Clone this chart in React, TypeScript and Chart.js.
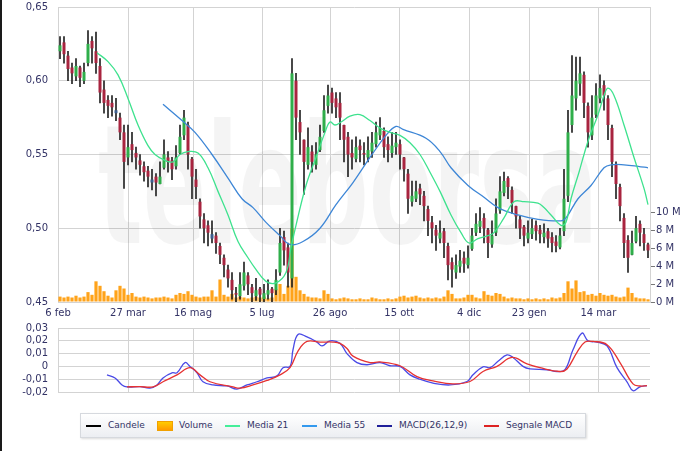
import React, { useEffect, useRef } from "react";
import { Chart, registerables } from "chart.js";
Chart.register(...registerables);

// x positions are candle indices (one candle per two sessions)
const TICK_POS = [-0.5, 17, 33.25, 50.5, 67.5, 84.8, 102.3, 117.3, 134.6];
const TICK_LABELS = ["6 feb", "27 mar", "16 mag", "5 lug", "26 ago", "15 ott", "4 dic", "23 gen", "14 mar"];
const PRICE_TICKS = [0.45, 0.5, 0.55, 0.6, 0.65];
const VOLUME_TICKS = [0, 2, 4, 6, 8, 10];
const MACD_TICKS = [-0.02, -0.01, 0, 0.01, 0.02, 0.03];

const OPEN = [0.620,0.626,0.617,0.609,0.603,0.609,0.600,0.612,0.627,0.620,
 0.610,0.594,0.587,0.585,0.578,0.575,0.565,0.548,0.557,0.551,
 0.546,0.542,0.539,0.531,0.535,0.530,0.541,0.548,0.546,0.542,
 0.551,0.563,0.570,0.547,0.533,0.518,0.506,0.502,0.493,0.495,
 0.488,0.480,0.472,0.465,0.456,0.454,0.461,0.468,0.460,0.454,
 0.459,0.452,0.455,0.459,0.458,0.470,0.494,0.487,0.466,0.600,
 0.572,0.560,0.543,0.552,0.543,0.553,0.566,0.583,0.592,0.588,
 0.585,0.570,0.562,0.551,0.547,0.556,0.551,0.548,0.552,0.557,
 0.563,0.566,0.557,0.551,0.555,0.557,0.548,0.537,0.518,0.520,
 0.527,0.522,0.513,0.504,0.499,0.493,0.498,0.488,0.477,0.470,
 0.474,0.480,0.475,0.486,0.497,0.501,0.507,0.499,0.489,0.497,
 0.512,0.524,0.534,0.526,0.515,0.506,0.501,0.493,0.496,0.502,
 0.499,0.494,0.498,0.494,0.491,0.487,0.498,0.522,0.570,0.588,
 0.598,0.604,0.583,0.563,0.577,0.588,0.597,0.588,0.568,0.543,
 0.528,0.507,0.492,0.482,0.491,0.503,0.496,0.489];

const HIGH = [0.630,0.630,0.620,0.612,0.615,0.610,0.612,0.634,0.630,0.633,
 0.615,0.600,0.590,0.590,0.588,0.578,0.570,0.570,0.565,0.555,
 0.550,0.545,0.542,0.540,0.537,0.545,0.560,0.552,0.548,0.556,
 0.570,0.580,0.572,0.548,0.540,0.520,0.510,0.505,0.505,0.497,
 0.490,0.482,0.475,0.470,0.460,0.470,0.477,0.470,0.462,0.466,
 0.460,0.462,0.465,0.460,0.472,0.500,0.498,0.490,0.615,0.605,
 0.580,0.560,0.568,0.556,0.558,0.570,0.590,0.597,0.595,0.592,
 0.592,0.570,0.565,0.560,0.562,0.560,0.558,0.562,0.565,0.572,
 0.575,0.568,0.562,0.565,0.565,0.560,0.548,0.540,0.532,0.532,
 0.530,0.525,0.515,0.508,0.502,0.505,0.500,0.490,0.480,0.482,
 0.485,0.484,0.488,0.500,0.510,0.514,0.510,0.500,0.505,0.520,
 0.535,0.538,0.535,0.528,0.515,0.508,0.502,0.505,0.506,0.505,
 0.502,0.503,0.500,0.497,0.495,0.500,0.540,0.580,0.617,0.616,
 0.616,0.606,0.585,0.590,0.598,0.604,0.600,0.590,0.570,0.545,
 0.530,0.510,0.495,0.498,0.508,0.505,0.500,0.490];

const LOW = [0.615,0.612,0.600,0.598,0.600,0.596,0.598,0.610,0.612,0.605,
 0.585,0.578,0.575,0.576,0.573,0.560,0.527,0.543,0.545,0.540,
 0.536,0.532,0.528,0.526,0.522,0.530,0.540,0.538,0.533,0.540,
 0.550,0.560,0.540,0.520,0.520,0.500,0.490,0.488,0.490,0.483,
 0.476,0.467,0.460,0.452,0.450,0.452,0.458,0.455,0.450,0.451,
 0.450,0.450,0.452,0.450,0.455,0.468,0.475,0.460,0.460,0.560,
 0.550,0.523,0.540,0.538,0.540,0.552,0.565,0.578,0.578,0.575,
 0.560,0.545,0.535,0.540,0.545,0.545,0.543,0.545,0.548,0.555,
 0.560,0.548,0.545,0.548,0.550,0.540,0.532,0.510,0.515,0.518,
 0.516,0.505,0.495,0.490,0.485,0.490,0.480,0.465,0.460,0.466,
 0.470,0.470,0.473,0.485,0.495,0.497,0.490,0.480,0.487,0.495,
 0.510,0.522,0.520,0.510,0.500,0.493,0.488,0.490,0.493,0.492,
 0.490,0.490,0.487,0.484,0.484,0.486,0.495,0.518,0.565,0.580,
 0.590,0.575,0.555,0.560,0.575,0.585,0.580,0.560,0.535,0.520,
 0.505,0.480,0.470,0.482,0.490,0.488,0.485,0.480];

const CLOSE = [0.624,0.618,0.608,0.605,0.610,0.602,0.606,0.625,0.622,0.612,
 0.592,0.585,0.583,0.582,0.580,0.565,0.545,0.555,0.553,0.548,
 0.543,0.538,0.535,0.533,0.531,0.535,0.550,0.545,0.540,0.548,
 0.562,0.575,0.550,0.535,0.528,0.508,0.500,0.497,0.496,0.490,
 0.482,0.475,0.466,0.458,0.455,0.462,0.470,0.462,0.456,0.458,
 0.455,0.456,0.458,0.456,0.465,0.490,0.485,0.470,0.605,0.575,
 0.565,0.545,0.555,0.545,0.550,0.562,0.580,0.590,0.585,0.582,
 0.575,0.560,0.550,0.548,0.555,0.553,0.550,0.553,0.558,0.565,
 0.568,0.555,0.553,0.556,0.558,0.550,0.540,0.520,0.522,0.525,
 0.523,0.515,0.505,0.500,0.495,0.497,0.490,0.475,0.472,0.475,
 0.478,0.476,0.480,0.495,0.503,0.505,0.500,0.490,0.495,0.510,
 0.525,0.532,0.528,0.517,0.508,0.500,0.495,0.497,0.500,0.498,
 0.496,0.497,0.493,0.490,0.488,0.495,0.520,0.565,0.590,0.600,
 0.605,0.585,0.565,0.575,0.590,0.595,0.590,0.570,0.545,0.530,
 0.515,0.490,0.480,0.490,0.500,0.497,0.490,0.485];

// millions of shares
const VOLUME = [0.6,0.5,0.6,0.5,0.7,0.5,0.6,1.1,0.8,2.3,
 1.8,1.2,0.7,0.5,1.3,1.8,1.5,0.8,1.0,0.6,
 0.5,0.6,0.5,0.4,0.5,0.5,0.6,0.5,0.4,0.8,
 1.0,0.9,1.2,0.8,0.6,0.5,0.6,0.6,1.3,0.6,
 2.5,0.8,0.6,0.9,0.5,0.6,0.5,0.4,0.5,0.6,
 0.5,0.6,0.4,0.5,1.4,2.0,0.9,1.8,8.2,2.8,
 1.3,0.9,0.6,0.5,0.5,0.4,1.3,0.9,0.4,0.3,
 0.4,0.5,0.4,0.3,0.3,0.4,0.3,0.3,0.5,0.4,
 0.3,0.3,0.4,0.3,0.4,0.6,0.7,0.5,0.6,0.7,
 0.5,0.4,0.5,0.4,0.5,0.4,0.6,1.3,0.9,0.4,
 0.4,0.5,0.8,0.8,0.5,0.4,1.2,0.8,0.7,1.0,
 0.9,0.6,0.4,0.5,0.4,0.4,0.3,0.4,0.3,0.4,
 0.3,0.4,0.3,0.5,0.4,0.5,1.0,2.3,1.5,2.4,
 1.1,1.2,0.8,0.9,0.7,1.0,0.8,0.7,0.8,0.6,
 0.5,0.6,1.6,1.0,0.5,0.4,0.4,0.3];

const MA21_IDX = [9.25,12,14.5,17,19.5,22,23.75,26.25,28.25,30,32,34.5,37,39.5,42,44.5,47,48.75,51.5,54,56.5,57.75,59,61.5,64,66.25,67.5,68.75,70.25,72.5,75,77.5,80,82.5,85,87.5,90,92.5,95,97.75,100.25,102.25,104.5,107,108.5,111,113.5,116,119.5,121,122.75,125.25,126.5,127.75,129.75,131,132.25,134.5,136,137,138.5,141,143.5,146,147];
const MA21_VAL = [0.619,0.613,0.604,0.588,0.570,0.556,0.550,0.546,0.545,0.550,0.552,0.551,0.541,0.525,0.509,0.491,0.480,0.473,0.464,0.463,0.470,0.487,0.502,0.529,0.548,0.565,0.572,0.570,0.572,0.576,0.577,0.573,0.568,0.565,0.563,0.558,0.550,0.538,0.525,0.509,0.497,0.490,0.493,0.495,0.497,0.507,0.518,0.518,0.517,0.514,0.509,0.502,0.504,0.520,0.538,0.550,0.561,0.577,0.590,0.595,0.590,0.570,0.548,0.527,0.516];

const MA55_IDX = [25.75,30.5,33.75,38,42,45.5,48.25,51.5,55,57.5,60.75,65,69,73.25,77.5,81.5,84,85.75,91.5,95,97.75,102,106,109.5,114.5,119.5,125.25,126.5,129.5,132.75,136,137.75,141,144.5,147];
const MA55_VAL = [0.584,0.573,0.565,0.550,0.534,0.520,0.514,0.504,0.495,0.489,0.491,0.500,0.516,0.531,0.548,0.563,0.569,0.567,0.561,0.552,0.541,0.529,0.521,0.514,0.509,0.506,0.505,0.507,0.520,0.529,0.541,0.543,0.543,0.542,0.541];

const MACD_IDX = [11.75,13.75,15.5,16.75,20,22.5,24.25,25.75,28,29.25,31.25,32.5,34.25,35.75,38.25,41.75,44.25,46.75,49.25,51.75,54.25,55.75,57.5,58.25,59.5,61.75,64.25,65.5,67.5,70,71.75,74.25,76.75,80,82.5,85,87.5,90,93.25,97.5,101.75,103.25,105.75,107.5,109.5,111.75,113.25,115.75,117.5,121.75,124.25,126.25,128.25,130.5,132,134.25,136.75,139.25,141.75,143.25,145,146.75];
const MACD_VAL = [-0.0066,-0.009,-0.0145,-0.016,-0.0158,-0.017,-0.0145,-0.009,-0.005,-0.005,0.003,0.0,-0.005,-0.012,-0.0145,-0.0153,-0.0177,-0.0145,-0.012,-0.009,-0.0074,-0.001,0.0,0.013,0.025,0.023,0.019,0.016,0.020,0.018,0.010,0.003,0.0013,0.003,0.0005,0.0,-0.0066,-0.010,-0.013,-0.0145,-0.0118,-0.0066,-0.0003,-0.001,0.004,0.009,0.007,0.0,-0.002,-0.0026,-0.004,-0.0026,0.013,0.026,0.020,0.019,0.016,-0.001,-0.012,-0.019,-0.016,-0.015];

const SIGNAL_IDX = [16.75,20,23.25,25.75,29.25,32.5,35,37.5,43.25,45,48.25,51.75,55,57.5,59.5,61.75,65,68.25,70,71.75,73.25,77.5,80,85,89.25,93.25,98.25,102.5,105.75,109.25,113,116.75,120,125,126.75,129.25,131.25,133.25,136.75,140,143.25,145,146.75];
const SIGNAL_VAL = [-0.016,-0.0158,-0.016,-0.012,-0.0066,-0.001,-0.0066,-0.012,-0.016,-0.017,-0.0145,-0.011,-0.0066,-0.001,0.012,0.0195,0.019,0.019,0.018,0.014,0.008,0.003,0.0035,0.0005,-0.008,-0.0113,-0.0137,-0.0118,-0.004,0.0,0.007,0.002,-0.001,-0.004,-0.002,0.011,0.019,0.0195,0.017,0.003,-0.0137,-0.0153,-0.015];

const FONT = '"DejaVu Sans", Verdana, sans-serif';
const LABEL = "#333366";
const GRID = "#d3d3d3";
const C_UP = "#2fae4a";
const C_DOWN = "#a8243f";
const C_UPGAP = "#3c5e8e";
const C_DOWNGAP = "#8c8c8c";
const C_WICK = "#222222";
const C_MA21 = "#3ee28e";
const C_MA55 = "#3d86d6";
const C_MACD = "#4a4ae6";
const C_SIGNAL = "#e63232";

const fmt = (v: number) => (Math.abs(v) < 1e-9 ? "0" : v.toFixed(2).replace(".", ","));

function candleColor(i: number) {
  const o = OPEN[i], c = CLOSE[i];
  const p = i > 0 ? CLOSE[i - 1] : o;
  if (c >= o) return c >= p ? C_UP : C_UPGAP;
  return c <= p ? C_DOWN : C_DOWNGAP;
}

const pts = (xs: number[], ys: number[]) => xs.map((x, i) => ({ x, y: ys[i] }));

function xAxis(showLabels: boolean, height: number) {
  return {
    type: "linear",
    min: -0.5,
    max: 147.5,
    offset: false,
    afterBuildTicks: (s: any) => {
      s.ticks = TICK_POS.map((value) => ({ value }));
    },
    afterFit: (s: any) => {
      s.height = height;
    },
    ticks: {
      display: showLabels,
      autoSkip: false,
      maxRotation: 0,
      padding: 5,
      color: LABEL,
      font: { family: FONT, size: 10 },
      callback: (v: number) => {
        const i = TICK_POS.indexOf(v);
        return i >= 0 ? TICK_LABELS[i] : "";
      },
    },
    grid: { color: GRID, drawTicks: false, offset: false },
    border: { display: false },
  };
}

function leftAxis(min: number, max: number, ticks: number[]) {
  return {
    position: "left",
    min,
    max,
    afterBuildTicks: (s: any) => {
      s.ticks = ticks.map((value) => ({ value }));
    },
    afterFit: (s: any) => {
      s.width = 58;
    },
    ticks: {
      padding: 0,
      autoSkip: false,
      color: LABEL,
      font: { family: FONT, size: 10 },
      callback: (v: any) => fmt(Number(v)),
    },
    grid: { color: GRID, drawTicks: true, tickLength: 10, tickColor: "rgba(0,0,0,0)" },
    border: { display: true, color: GRID },
  };
}

const watermark = {
  id: "watermark",
  beforeDatasetsDraw(chart: any) {
    const ctx = chart.ctx;
    ctx.save();
    ctx.font = 'bold 165px "DejaVu Sans"';
    ctx.fillStyle = "rgba(0,0,0,0.045)";
    ctx.textBaseline = "alphabetic";
    ctx.fillText("teleborsa", 98, 243, 500);
    ctx.restore();
  },
};

export default function App() {
  const c1 = useRef<HTMLCanvasElement>(null);
  const c2 = useRef<HTMLCanvasElement>(null);

  useEffect(() => {
    const idx = OPEN.map((_, i) => i);
    const bodyColors = idx.map(candleColor);

    const ch1 = new Chart(c1.current!, {
      type: "bar",
      data: {
        datasets: [
          {
            type: "line",
            label: "Media 21",
            data: pts(MA21_IDX, MA21_VAL),
            borderColor: C_MA21,
            borderWidth: 1.3,
            pointRadius: 0,
            tension: 0.4,
            yAxisID: "y",
            order: 0,
          },
          {
            type: "line",
            label: "Media 55",
            data: pts(MA55_IDX, MA55_VAL),
            borderColor: C_MA55,
            borderWidth: 1.3,
            pointRadius: 0,
            tension: 0.4,
            yAxisID: "y",
            order: 0,
          },
          {
            label: "Candele",
            data: idx.map((i) => ({ x: i, y: [OPEN[i], CLOSE[i]] })),
            backgroundColor: bodyColors,
            borderWidth: 0,
            barPercentage: 0.75,
            categoryPercentage: 1,
            grouped: false,
            yAxisID: "y",
            order: 1,
          },
          {
            label: "wick",
            data: idx.map((i) => ({ x: i, y: [LOW[i], HIGH[i]] })),
            backgroundColor: C_WICK,
            borderWidth: 0,
            barThickness: 1,
            grouped: false,
            yAxisID: "y",
            order: 2,
          },
          {
            label: "Volume",
            data: idx.map((i) => ({ x: i, y: VOLUME[i] })),
            backgroundColor: "#ffa31a",
            borderWidth: 0,
            barPercentage: 0.8,
            categoryPercentage: 1,
            grouped: false,
            yAxisID: "yv",
            order: 3,
          },
        ] as any,
      },
      options: {
        responsive: false,
        animation: false,
        devicePixelRatio: 1,
        layout: { padding: { top: 7, left: 0, right: 0, bottom: 0 } },
        plugins: { legend: { display: false }, tooltip: { enabled: false } },
        scales: {
          x: xAxis(true, 23) as any,
          y: leftAxis(0.45, 0.65, PRICE_TICKS) as any,
          yv: {
            position: "right",
            min: 0,
            max: 32.8,
            afterBuildTicks: (s: any) => {
              s.ticks = VOLUME_TICKS.map((value) => ({ value }));
            },
            afterFit: (s: any) => {
              s.width = 50;
            },
            ticks: {
              padding: 1,
              autoSkip: false,
              color: LABEL,
              font: { family: FONT, size: 10 },
              callback: (v: any) => v + " M",
            },
            grid: { drawOnChartArea: false, tickLength: 5, color: "#777" },
            border: { display: true, color: GRID },
          },
        },
      } as any,
      plugins: [watermark],
    });

    const ch2 = new Chart(c2.current!, {
      type: "line",
      data: {
        datasets: [
          {
            label: "Segnale MACD",
            data: pts(SIGNAL_IDX, SIGNAL_VAL),
            borderColor: C_SIGNAL,
            borderWidth: 1.3,
            pointRadius: 0,
            tension: 0.4,
          },
          {
            label: "MACD(26,12,9)",
            data: pts(MACD_IDX, MACD_VAL),
            borderColor: C_MACD,
            borderWidth: 1.3,
            pointRadius: 0,
            tension: 0.4,
          },
        ],
      },
      options: {
        responsive: false,
        animation: false,
        devicePixelRatio: 1,
        layout: { padding: { top: 8, left: 0, right: 50, bottom: 0 } },
        plugins: { legend: { display: false }, tooltip: { enabled: false } },
        scales: {
          x: xAxis(false, 8) as any,
          y: leftAxis(-0.02, 0.03, MACD_TICKS) as any,
        },
      } as any,
    });

    return () => {
      ch1.destroy();
      ch2.destroy();
    };
  }, []);

  const legendText: React.CSSProperties = {
    position: "absolute",
    top: 6,
    fontFamily: FONT,
    fontSize: 9,
    color: LABEL,
    whiteSpace: "nowrap",
    lineHeight: "11px",
  };
  const sw = (left: number, color: string): React.CSSProperties => ({
    position: "absolute",
    left,
    top: 11,
    width: 15,
    height: 2,
    background: color,
  });

  // legend item x positions are relative to the legend box (left edge at x=80)
  return (
    <div style={{ position: "absolute", left: 0, top: 0, width: 700, height: 451, background: "#fff", overflow: "hidden" }}>
      <div style={{ position: "absolute", left: 0, top: 0, width: 2, height: 451, background: "#1a1a1a" }} />
      <canvas ref={c1} width={700} height={325} style={{ position: "absolute", left: 0, top: 0 }} />
      <canvas ref={c2} width={700} height={80} style={{ position: "absolute", left: 0, top: 320 }} />
      <div
        style={{
          position: "absolute",
          left: 80,
          top: 413,
          width: 504,
          height: 23,
          border: "1px solid #d6d9de",
          background: "linear-gradient(#ffffff, #eceef2)",
          boxShadow: "1px 1px 2px rgba(0,0,0,0.15)",
        }}
      >
        <div style={sw(5, "#000")} />
        <div style={{ ...legendText, left: 27 }}>Candele</div>
        <div style={{ position: "absolute", left: 76, top: 7, width: 14, height: 8, background: "linear-gradient(#ffcc00, #ff9900)", border: "1px solid #f0a000" }} />
        <div style={{ ...legendText, left: 98 }}>Volume</div>
        <div style={sw(144, "#44ee99")} />
        <div style={{ ...legendText, left: 166 }}>Media 21</div>
        <div style={sw(221, "#3399ee")} />
        <div style={{ ...legendText, left: 243 }}>Media 55</div>
        <div style={sw(296, "#1f1f99")} />
        <div style={{ ...legendText, left: 318 }}>MACD(26,12,9)</div>
        <div style={sw(403, "#dd2222")} />
        <div style={{ ...legendText, left: 425 }}>Segnale MACD</div>
      </div>
    </div>
  );
}
